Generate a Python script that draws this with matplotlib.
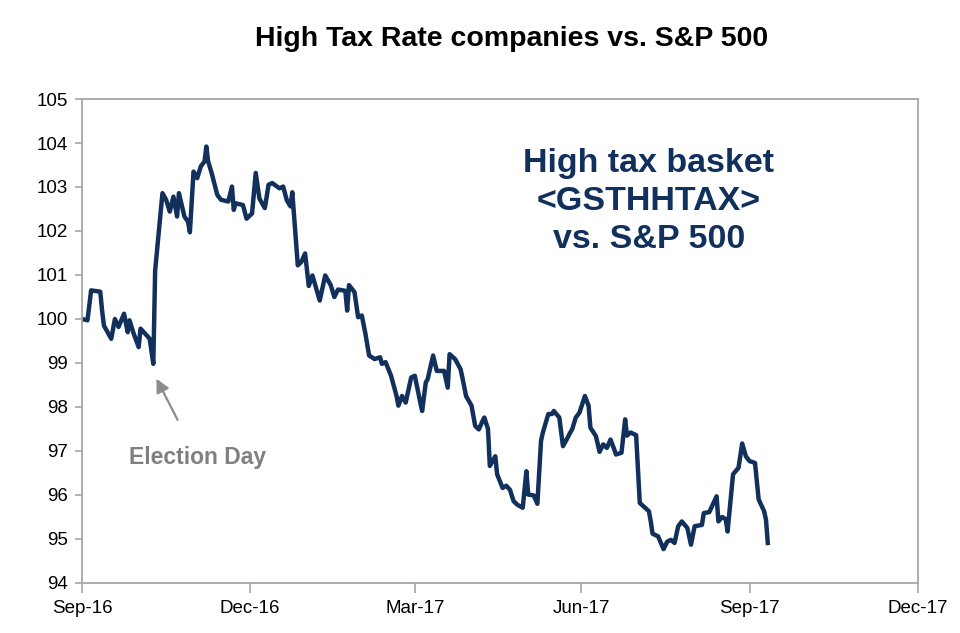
import pandas as pd
import matplotlib
matplotlib.use('Agg')
import matplotlib.pyplot as plt
import matplotlib.dates as mdates

plt.rcParams['font.family'] = ['Liberation Sans', 'DejaVu Sans']

# Data
dates = [
    '2016-09-30', '2016-10-03', '2016-10-05', '2016-10-10', '2016-10-11', '2016-10-12',
    '2016-10-16', '2016-10-18', '2016-10-20', '2016-10-23', '2016-10-25', '2016-10-26',
    '2016-10-28', '2016-10-31', '2016-11-01', '2016-11-05', '2016-11-06', '2016-11-08',
    '2016-11-09', '2016-11-13', '2016-11-15', '2016-11-17', '2016-11-19', '2016-11-21',
    '2016-11-22', '2016-11-25', '2016-11-27', '2016-11-28', '2016-11-30', '2016-12-02',
    '2016-12-04', '2016-12-06', '2016-12-07', '2016-12-08', '2016-12-10', '2016-12-13',
    '2016-12-15', '2016-12-19', '2016-12-21', '2016-12-22', '2016-12-23', '2016-12-27',
    '2016-12-29', '2017-01-01', '2017-01-03', '2017-01-05', '2017-01-08', '2017-01-10',
    '2017-01-12', '2017-01-16', '2017-01-18', '2017-01-20', '2017-01-22', '2017-01-23',
    '2017-01-26', '2017-01-28', '2017-01-30', '2017-02-01', '2017-02-03', '2017-02-07',
    '2017-02-10', '2017-02-13', '2017-02-15', '2017-02-17', '2017-02-21', '2017-02-22',
    '2017-02-23', '2017-02-26', '2017-02-28', '2017-03-02', '2017-03-04', '2017-03-06',
    '2017-03-09', '2017-03-12', '2017-03-13', '2017-03-15', '2017-03-18', '2017-03-21',
    '2017-03-22', '2017-03-24', '2017-03-26', '2017-03-29', '2017-03-31', '2017-04-03',
    '2017-04-04', '2017-04-06', '2017-04-07', '2017-04-10', '2017-04-12', '2017-04-16',
    '2017-04-18', '2017-04-19', '2017-04-22', '2017-04-25', '2017-04-26', '2017-04-28',
    '2017-05-01', '2017-05-03', '2017-05-05', '2017-05-07', '2017-05-08', '2017-05-10',
    '2017-05-11', '2017-05-14', '2017-05-15', '2017-05-18', '2017-05-20', '2017-05-22',
    '2017-05-24', '2017-05-26', '2017-05-29', '2017-05-31', '2017-06-01', '2017-06-04',
    '2017-06-06', '2017-06-08', '2017-06-09', '2017-06-12', '2017-06-14', '2017-06-15',
    '2017-06-18', '2017-06-20', '2017-06-22', '2017-06-24', '2017-06-25', '2017-06-27',
    '2017-06-29', '2017-07-02', '2017-07-04', '2017-07-05', '2017-07-08', '2017-07-10',
    '2017-07-12', '2017-07-14', '2017-07-16', '2017-07-18', '2017-07-19', '2017-07-22',
    '2017-07-24', '2017-07-25', '2017-07-27', '2017-07-30', '2017-08-01', '2017-08-06',
    '2017-08-07', '2017-08-08', '2017-08-11', '2017-08-14', '2017-08-16', '2017-08-18',
    '2017-08-20', '2017-08-22', '2017-08-24', '2017-08-27', '2017-08-29', '2017-08-31',
    '2017-09-04', '2017-09-05', '2017-09-08', '2017-09-12', '2017-09-13', '2017-09-15',
    '2017-09-17', '2017-09-18', '2017-09-21', '2017-09-24', '2017-09-26', '2017-09-28',
    '2017-09-30', '2017-10-03', '2017-10-05', '2017-10-08', '2017-10-09', '2017-10-10',
]
values = [
    100.00, 99.97, 100.65, 100.62, 100.19, 99.85,
    99.55, 100.00, 99.82, 100.12, 99.70, 99.97,
    99.70, 99.36, 99.78, 99.60, 99.55, 98.98,
    101.10, 102.86, 102.71, 102.44, 102.78, 102.33,
    102.86, 102.33, 102.21, 101.97, 103.35, 103.20,
    103.47, 103.58, 103.92, 103.58, 103.30, 102.82,
    102.71, 102.67, 103.01, 102.48, 102.63, 102.59,
    102.28, 102.40, 103.32, 102.74, 102.52, 103.05,
    103.09, 102.97, 103.01, 102.70, 102.56, 102.88,
    101.22, 101.30, 101.49, 100.75, 100.99, 100.42,
    100.99, 100.77, 100.50, 100.67, 100.64, 100.19,
    100.77, 100.61, 100.04, 100.08, 99.66, 99.17,
    99.09, 99.13, 98.98, 99.02, 98.71, 98.25,
    98.03, 98.25, 98.10, 98.67, 98.71, 98.10,
    97.91, 98.56, 98.63, 99.17, 98.82, 98.82,
    98.44, 99.20, 99.09, 98.86, 98.67, 98.25,
    98.03, 97.57, 97.49, 97.68, 97.76, 97.50,
    96.66, 96.88, 96.47, 96.16, 96.21, 96.12,
    95.86, 95.78, 95.71, 96.54, 96.01, 95.99,
    95.80, 97.23, 97.42, 97.84, 97.84, 97.91,
    97.76, 97.11, 97.26, 97.42, 97.49, 97.76,
    97.87, 98.25, 98.03, 97.53, 97.34, 96.98,
    97.15, 97.07, 97.26, 97.04, 96.92, 96.96,
    97.72, 97.35, 97.42, 97.36, 95.82, 95.63,
    95.40, 95.12, 95.06, 94.77, 94.94, 94.98,
    94.91, 95.29, 95.40, 95.25, 94.87, 95.29,
    95.32, 95.59, 95.61, 95.97, 95.40, 95.50,
    95.45, 95.17, 96.47, 96.62, 97.17, 96.88,
    96.77, 96.73, 95.90, 95.63, 95.44, 94.91,
]
tick_dates = ['2016-09-30', '2016-12-31', '2017-03-31', '2017-06-30', '2017-09-30', '2017-12-31']

navy = '#12305c'
axis_grey = '#a6a6a6'

fig = plt.figure(figsize=(9.6, 6.33), dpi=100)
ax = fig.add_axes([0.0854, 0.079, 0.8706, 0.7646])

x = pd.to_datetime(dates)
ax.plot(x, values, color=navy, linewidth=3.2, solid_joinstyle='round')

# Axes formatting
ax.set_xlim(pd.Timestamp(tick_dates[0]), pd.Timestamp(tick_dates[-1]))
ax.set_ylim(94, 105)
ax.set_yticks(range(94, 106))
ax.set_xticks(pd.to_datetime(tick_dates))
ax.xaxis.set_major_formatter(mdates.DateFormatter('%b-%y'))
for s in ax.spines.values():
    s.set_color(axis_grey)
    s.set_linewidth(1.3)
ax.tick_params(axis='x', length=7, width=1.2, color=axis_grey, labelsize=13.5, pad=5)
ax.tick_params(axis='y', length=5, width=1.2, color=axis_grey, labelsize=13.5, pad=5)

# Title
fig.text(0.533, 0.938, 'High Tax Rate companies vs. S&P 500', ha='center', va='center',
         fontsize=20.5, fontweight='bold')

# Big label
ax.text(0.678, 0.788, 'High tax basket\n<GSTHHTAX>\nvs. S&P 500', transform=ax.transAxes,
        ha='center', va='center', fontsize=24.5, fontweight='bold', color=navy, linespacing=1.3)

# Election day arrow
ax.annotate('', xy=(pd.Timestamp('2016-11-09'), 98.7), xytext=(pd.Timestamp('2016-11-22'), 97.65),
            arrowprops=dict(arrowstyle='-|>', color='#8c8c8c', lw=1.6, mutation_scale=20))
ax.text(pd.Timestamp('2016-12-02'), 96.85, 'Election Day', ha='center', va='center',
        fontsize=16.5, fontweight='bold', color='#808080')

fig.savefig('out.png', dpi=100)
